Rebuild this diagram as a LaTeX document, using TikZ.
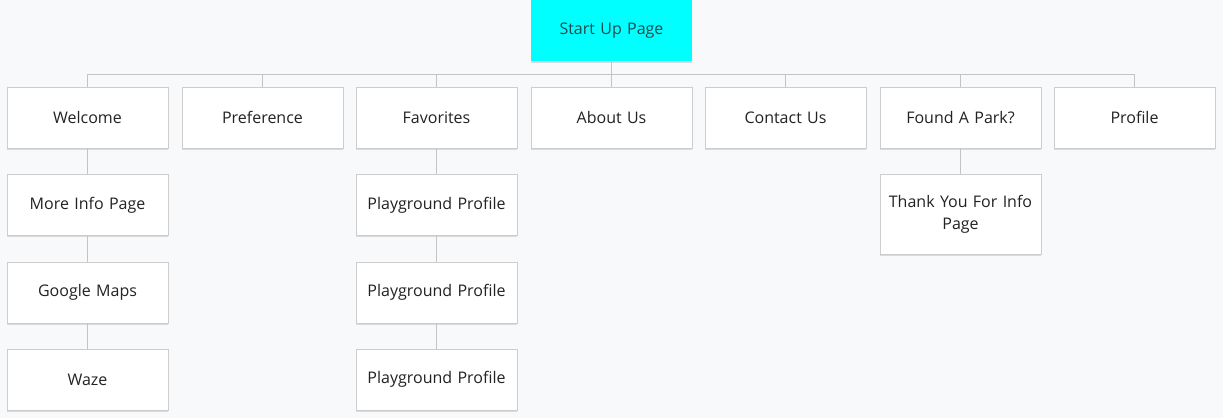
\documentclass[tikz,border=0pt]{standalone}
\usepackage{fontspec}
\setmainfont{Open Sans}
\usetikzlibrary{shadows}
\definecolor{bg}{HTML}{F8F9FB}
\definecolor{bordc}{HTML}{CDCDCD}
\definecolor{linec}{HTML}{C4C4C4}
\definecolor{txt}{HTML}{222222}
\definecolor{aqua}{HTML}{00FFFF}
\definecolor{starttxt}{HTML}{1F4A4A}
\begin{document}
\begin{tikzpicture}[x=1pt,y=-1pt,
  pagebox/.style={draw=bordc,line width=0.8pt,fill=white,minimum width=161pt,minimum height=61pt,
    text width=155pt,align=center,inner sep=0pt,font=\fontsize{16}{22}\selectfont,text=txt,
    drop shadow={shadow xshift=0pt,shadow yshift=-1.5pt,opacity=0.12,fill=black}},
  startbox/.style={pagebox,draw=none,fill=aqua,text=starttxt},
  conn/.style={draw=linec,line width=0.8pt}]
\fill[bg] (0,0) rectangle (1223,418);
\useasboundingbox (0,0) rectangle (1223,418);
\node[startbox] (start) at (611.5,30.5) {Start Up Page};
\node[pagebox] (welcome) at (87.5,117.5) {Welcome};
\node[pagebox] (pref) at (262.5,117.5) {Preference};
\node[pagebox] (fav) at (436.5,117.5) {Favorites};
\node[pagebox] (about) at (611.5,117.5) {About Us};
\node[pagebox] (contact) at (785.5,117.5) {Contact Us};
\node[pagebox] (found) at (960.5,117.5) {Found A Park?};
\node[pagebox] (profile) at (1134.5,117.5) {Profile};
\node[pagebox] (more) at (87.5,205) {More Info Page};
\node[pagebox] (gmaps) at (87.5,292.5) {Google Maps};
\node[pagebox] (waze) at (87.5,379.5) {Waze};
\node[pagebox] (pp1) at (436.5,205) {Playground Profile};
\node[pagebox] (pp2) at (436.5,292.5) {Playground Profile};
\node[pagebox] (pp3) at (436.5,379.5) {Playground Profile};
\node[pagebox,minimum height=80pt] (thanks) at (960.5,214) {Thank You For Info\\Page};
\coordinate (bus) at (0,74);
\begin{scope}[on background layer/.try]
\draw[conn] (start.south) -- (start.south |- bus);
\draw[conn] (welcome.north) -- (welcome.north |- bus) -- (profile.north |- bus) -- (profile.north);
\foreach \n in {pref,fav,about,contact,found}{
  \draw[conn] (\n.north) -- (\n.north |- bus);
}
\draw[conn] (welcome.south) -- (more.north);
\draw[conn] (more.south) -- (gmaps.north);
\draw[conn] (gmaps.south) -- (waze.north);
\draw[conn] (fav.south) -- (pp1.north);
\draw[conn] (pp1.south) -- (pp2.north);
\draw[conn] (pp2.south) -- (pp3.north);
\draw[conn] (found.south) -- (thanks.north);
\end{scope}
\end{tikzpicture}
\end{document}
